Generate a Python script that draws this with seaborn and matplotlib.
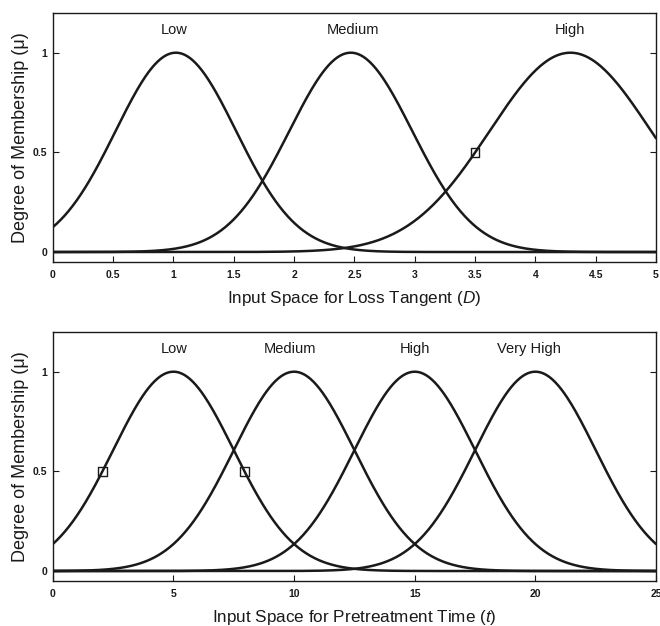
import numpy as np
import pandas as pd
import matplotlib
matplotlib.use("Agg")
import matplotlib.pyplot as plt
import seaborn as sns

# ---- data ----
top_names = ["Low", "Medium", "High"]
top_centers = [1.02, 2.47, 4.29]
top_sigmas = [0.50, 0.51, 0.67]
top_label_x = [1.01, 2.49, 4.29]
top_marker_x = [3.5]
top_marker_y = [0.5]
top_xticks = [0, 0.5, 1, 1.5, 2, 2.5, 3, 3.5, 4, 4.5, 5]

bot_names = ["Low", "Medium", "High", "Very High"]
bot_centers = [5, 10, 15, 20]
bot_sigmas = [2.5, 2.5, 2.5, 2.5]
bot_label_x = [5.05, 9.85, 15.0, 19.75]
bot_marker_x = [2.05, 7.95]
bot_marker_y = [0.5, 0.5]
bot_xticks = [0, 5, 10, 15, 20, 25]

yticks = [0, 0.5, 1]
ytick_labels = ["0", "0.5", "1"]

sns.set_theme(style="white")
plt.rcParams["font.family"] = ["Liberation Sans", "DejaVu Sans"]
plt.rcParams["mathtext.fontset"] = "custom"
plt.rcParams["mathtext.it"] = "Liberation Sans:italic"
plt.rcParams["mathtext.rm"] = "Liberation Sans"


def mf_frame(names, centers, sigmas, xmax):
    x = np.linspace(0, xmax, 600)
    rows = []
    for n, c, s in zip(names, centers, sigmas):
        rows.append(pd.DataFrame({"x": x, "mu": np.exp(-(x - c) ** 2 / (2 * s ** 2)), "mf": n}))
    return pd.concat(rows, ignore_index=True)


fig = plt.figure(figsize=(6.6, 6.26), dpi=100)
ax1 = fig.add_axes([0.080, 0.5815, 0.914, 0.398])
ax2 = fig.add_axes([0.080, 0.0719, 0.914, 0.398])

panels = [
    (ax1, top_names, top_centers, top_sigmas, top_label_x, top_marker_x, top_marker_y, top_xticks, 5,
     r"Input Space for Loss Tangent ($\mathit{D}$)"),
    (ax2, bot_names, bot_centers, bot_sigmas, bot_label_x, bot_marker_x, bot_marker_y, bot_xticks, 25,
     r"Input Space for Pretreatment Time ($\mathit{t}$)"),
]

for ax, names, centers, sigmas, lx, mx, my, xt, xmax, xlabel in panels:
    df = mf_frame(names, centers, sigmas, xmax)
    sns.lineplot(data=df, x="x", y="mu", hue="mf", palette=["#1a1a1a"] * len(names),
                 linewidth=1.8, legend=False, ax=ax)
    sns.scatterplot(x=mx, y=my, marker="s", s=40, facecolor="none", edgecolor="#1a1a1a",
                    linewidth=1.0, ax=ax, zorder=5)
    for n, x in zip(names, lx):
        ax.text(x, 1.115, n, ha="center", va="center", fontsize=10.5, color="#1a1a1a")
    ax.set_xlim(0, xmax)
    ax.set_ylim(-0.05, 1.2)
    ax.set_xticks(xt)
    ax.set_xticklabels([f"{v:g}" for v in xt], fontweight="bold")
    ax.set_yticks(yticks)
    ax.set_yticklabels(ytick_labels, fontweight="bold")
    ax.tick_params(axis="both", direction="in", length=4, width=0.8, labelsize=7.5,
                   colors="#1a1a1a", right=True, top=False, left=True, bottom=True)
    ax.tick_params(axis="x", pad=6)
    ax.tick_params(axis="y", pad=4)
    for sp in ax.spines.values():
        sp.set_color("#1a1a1a")
        sp.set_linewidth(1.0)
    ax.set_xlabel(xlabel, fontsize=12.3, color="#1a1a1a", labelpad=6)
    ax.set_ylabel("Degree of Membership (μ)", fontsize=13, color="#1a1a1a", labelpad=3)

fig.savefig("out.png", dpi=100)
